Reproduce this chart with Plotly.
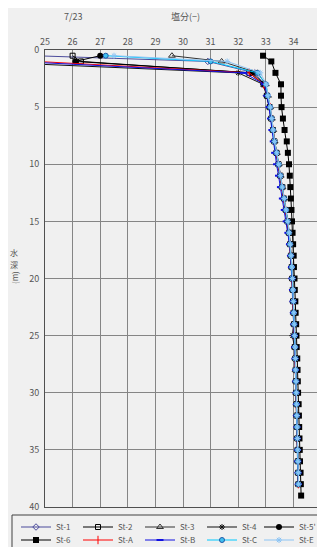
import plotly.graph_objects as go

# ---------------- data ----------------
depth = [0.5, 1, 2, 3, 4, 5, 6, 7, 8, 9, 10, 11, 12, 13, 14, 15, 16, 17, 18, 19,
         20, 21, 22, 23, 24, 25, 26, 27, 28, 29, 30, 31, 32, 33, 34, 35, 36, 37, 38]
depth_st6 = [0.5, 1, 2, 3, 4, 5, 6, 7, 8, 9, 10, 11, 12, 13, 14, 15, 16, 17, 18, 19,
             20, 21, 22, 23, 24, 25, 26, 27, 28, 29, 30, 31, 32, 33, 34, 35, 36, 37, 38, 39]

st1 = [24.6, 30.9, 32.6, 32.95, 33.02, 33.12, 33.18, 33.24, 33.3, 33.37, 33.44, 33.5, 33.57,
       33.64, 33.7, 33.76, 33.82, 33.86, 33.9, 33.92, 33.94, 33.96, 33.98, 34.0, 34.01, 34.03,
       34.04, 34.06, 34.07, 34.08, 34.09, 34.1, 34.11, 34.12, 34.13, 34.14, 34.15, 34.16, 34.17]
st2 = [26.0, 26.3, 32.4, 32.92, 33.04, 33.14, 33.2, 33.26, 33.31, 33.39, 33.46, 33.53, 33.6,
       33.66, 33.73, 33.79, 33.84, 33.88, 33.91, 33.94, 33.96, 33.98, 33.99, 34.01, 34.02, 34.04,
       34.05, 34.07, 34.08, 34.09, 34.1, 34.11, 34.12, 34.13, 34.14, 34.15, 34.16, 34.17, 34.18]
st3 = [29.6, 31.4, 32.7, 33.0, 33.08, 33.16, 33.22, 33.27, 33.32, 33.4, 33.47, 33.54, 33.6,
       33.67, 33.74, 33.8, 33.85, 33.89, 33.92, 33.95, 33.97, 33.99, 34.0, 34.02, 34.03, 34.05,
       34.06, 34.07, 34.08, 34.09, 34.1, 34.12, 34.13, 34.14, 34.15, 34.16, 34.17, 34.18, 34.19]
st4 = [21.0, 22.5, 32.0, 32.9, 33.03, 33.13, 33.19, 33.25, 33.3, 33.37, 33.45, 33.52, 33.58,
       33.65, 33.71, 33.77, 33.83, 33.87, 33.9, 33.93, 33.95, 33.97, 33.98, 34.0, 34.01, 33.96,
       34.04, 34.06, 34.07, 34.08, 34.1, 34.11, 34.12, 34.13, 34.14, 34.15, 34.16, 34.17, 34.18]
st5 = [27.0, 26.1, 32.5, 32.95, 33.05, 33.15, 33.21, 33.26, 33.31, 33.39, 33.46, 33.53, 33.59,
       33.66, 33.73, 33.79, 33.84, 33.89, 33.91, 33.94, 33.96, 33.98, 33.99, 34.01, 34.02, 34.04,
       34.05, 34.07, 34.08, 34.09, 34.1, 34.11, 34.12, 34.13, 34.14, 34.15, 34.16, 34.17, 34.18]
st6 = [32.9, 33.2, 33.35, 33.55, 33.55, 33.57, 33.62, 33.68, 33.76, 33.8, 33.84, 33.87, 33.89,
       33.91, 33.93, 33.95, 33.97, 33.99, 34.01, 34.02, 34.04, 34.05, 34.07, 34.08, 34.1, 34.11,
       34.12, 34.14, 34.15, 34.16, 34.17, 34.19, 34.2, 34.21, 34.22, 34.23, 34.24, 34.26, 34.27, 34.28]
sta = [20.5, 24.7, 32.4, 32.92, 33.06, 33.16, 33.21, 33.26, 33.31, 33.38, 33.45, 33.52, 33.58,
       33.65, 33.72, 33.78, 33.83, 33.87, 33.9, 33.93, 33.95, 33.97, 33.98, 34.0, 34.02, 34.03,
       34.05, 34.06, 34.07, 34.08, 34.1, 34.11, 34.12, 34.13, 34.14, 34.15, 34.16, 34.17, 34.18]
stb = [21.5, 24.0, 32.2, 32.95, 33.04, 33.12, 33.17, 33.22, 33.27, 33.32, 33.39, 33.46, 33.53,
       33.6, 33.67, 33.74, 33.8, 33.86, 33.9, 33.93, 33.95, 33.97, 33.99, 34.0, 34.02, 34.04,
       34.05, 34.06, 34.08, 34.09, 34.1, 34.11, 34.12, 34.13, 34.14, 34.15, 34.16, 34.17, 34.18]
stc = [27.2, 31.0, 32.7, 33.0, 33.07, 33.16, 33.21, 33.26, 33.31, 33.39, 33.47, 33.53, 33.59,
       33.66, 33.73, 33.79, 33.84, 33.88, 33.91, 33.94, 33.96, 33.98, 34.0, 34.01, 34.03, 34.04,
       34.06, 34.07, 34.08, 34.09, 34.1, 34.11, 34.12, 34.13, 34.14, 34.15, 34.16, 34.17, 34.18]
ste = [27.5, 31.6, 32.8, 33.02, 33.08, 33.17, 33.22, 33.27, 33.32, 33.4, 33.47, 33.54, 33.6,
       33.67, 33.74, 33.8, 33.85, 33.89, 33.92, 33.95, 33.97, 33.99, 34.0, 34.02, 34.03, 34.05,
       34.06, 34.07, 34.08, 34.1, 34.11, 34.12, 34.13, 34.14, 34.15, 34.16, 34.17, 34.18, 34.19]

x_ticks = [25, 26, 27, 28, 29, 30, 31, 32, 33, 34, 35]
y_ticks = [0, 5, 10, 15, 20, 25, 30, 35, 40]

FONT = "Noto Sans CJK JP, Noto Sans, sans-serif"
TXT = "#555555"
BG = "#f0f0f0"

series = [
    ("St-1", st1, depth, "#4b4b9b", dict(symbol="diamond-open", size=5, color="#4b4b9b", line=dict(width=1)), "legend"),
    ("St-2", st2, depth, "#000000", dict(symbol="square-open", size=5, color="#000000", line=dict(width=1)), "legend"),
    ("St-3", st3, depth, "#333333", dict(symbol="triangle-up-open", size=6, color="#333333", line=dict(width=1)), "legend"),
    ("St-4", st4, depth, "#111111", dict(symbol="asterisk-open", size=5, color="#111111", line=dict(width=1, color="#111111")), "legend"),
    ("St-5'", st5, depth, "#000000", dict(symbol="circle", size=6, color="#000000"), "legend3"),
    ("St-6", st6, depth_st6, "#000000", dict(symbol="square", size=6, color="#000000"), "legend2"),
    ("St-A", sta, depth, "#ff0000", dict(symbol="line-ns-open", size=6, color="#ff0000", line=dict(width=1, color="#ff0000")), "legend2"),
    ("St-B", stb, depth, "#1010e0", dict(symbol="line-ew-open", size=5, color="#1010e0", line=dict(width=2, color="#1010e0")), "legend2"),
    ("St-C", stc, depth, "#00c8ff", dict(symbol="circle", size=5, color="#40c0f0", line=dict(width=1, color="#1f5aa8")), "legend2"),
    ("St-E", ste, depth, "#8cc4f4", dict(symbol="asterisk-open", size=5, color="#8cc4f4", line=dict(width=1, color="#8cc4f4")), "legend4"),
]

# page body has an 8px margin: the figure is drawn at (8, 8) of the page
OFF = 8
W, H, L, R, T, B = 317, 539, 37, 4, 42, 40
pw, ph = W - L - R, H - T - B
def px(xpage):
    return (xpage - OFF - L) / pw
def py(ypage):
    return (H - B - (ypage - OFF)) / ph

fig = go.Figure()
for name, xs, ys, col, mk, lg in series:
    fig.add_trace(go.Scatter(x=xs, y=ys, name=name, mode="lines+markers",
                             line=dict(color=col, width=1), marker=mk, legend=lg))

leg_common = dict(orientation="h", xanchor="left", yanchor="middle",
                  borderwidth=0, bgcolor="rgba(0,0,0,0)",
                  font=dict(size=8, color=TXT), entrywidth=17, entrywidthmode="pixels",
                  itemwidth=30)
leg_single = dict(orientation="h", xanchor="left", yanchor="middle",
                  borderwidth=0, bgcolor="rgba(0,0,0,0)",
                  font=dict(size=8, color=TXT), itemwidth=30)

fig.update_layout(
    width=W, height=H,
    margin=dict(l=L, r=R, t=T, b=B, autoexpand=False),
    paper_bgcolor=BG, plot_bgcolor=BG,
    font=dict(family=FONT, size=9, color=TXT),
    showlegend=True,
    legend=dict(x=px(16), y=py(527), **leg_common),
    legend2=dict(x=px(16), y=py(540), **leg_common),
    legend3=dict(x=px(259), y=py(527), **leg_single),
    legend4=dict(x=px(259), y=py(540), **leg_single),
    xaxis=dict(range=[25, 35], side="top", tickvals=x_ticks, ticks="",
               showgrid=True, gridcolor="#858585", gridwidth=1,
               showline=True, linecolor="#505050", linewidth=1, mirror=True,
               zeroline=False, tickfont=dict(size=9, color=TXT)),
    yaxis=dict(range=[40, 0], tickvals=y_ticks, ticks="outside",
               ticklen=3, tickcolor="rgba(0,0,0,0)",
               showgrid=True, gridcolor="#858585", gridwidth=1,
               showline=True, linecolor="#505050", linewidth=1, mirror=True,
               zeroline=False, tickfont=dict(size=9, color=TXT)),
)

fig.add_shape(type="rect", xref="paper", yref="paper",
              x0=px(12), x1=px(322), y0=py(515), y1=py(550),
              line=dict(color="#404040", width=1), fillcolor="rgba(0,0,0,0)")

ann = dict(xref="paper", yref="paper", showarrow=False, xanchor="center",
           yanchor="middle", font=dict(size=9, color=TXT))
ann8 = dict(ann, font=dict(size=8, color=TXT))
fig.add_annotation(text="7/23", x=px(73), y=py(16), **ann)
fig.add_annotation(text="塩分(−)", x=px(185), y=py(16), **ann)
fig.add_annotation(text="水", x=px(14), y=py(252), **ann8)
fig.add_annotation(text="深", x=px(14), y=py(264), **ann8)
fig.add_annotation(text="(m)", x=px(14), y=py(278), textangle=-90, **ann8)

fig.write_html("out.html")
